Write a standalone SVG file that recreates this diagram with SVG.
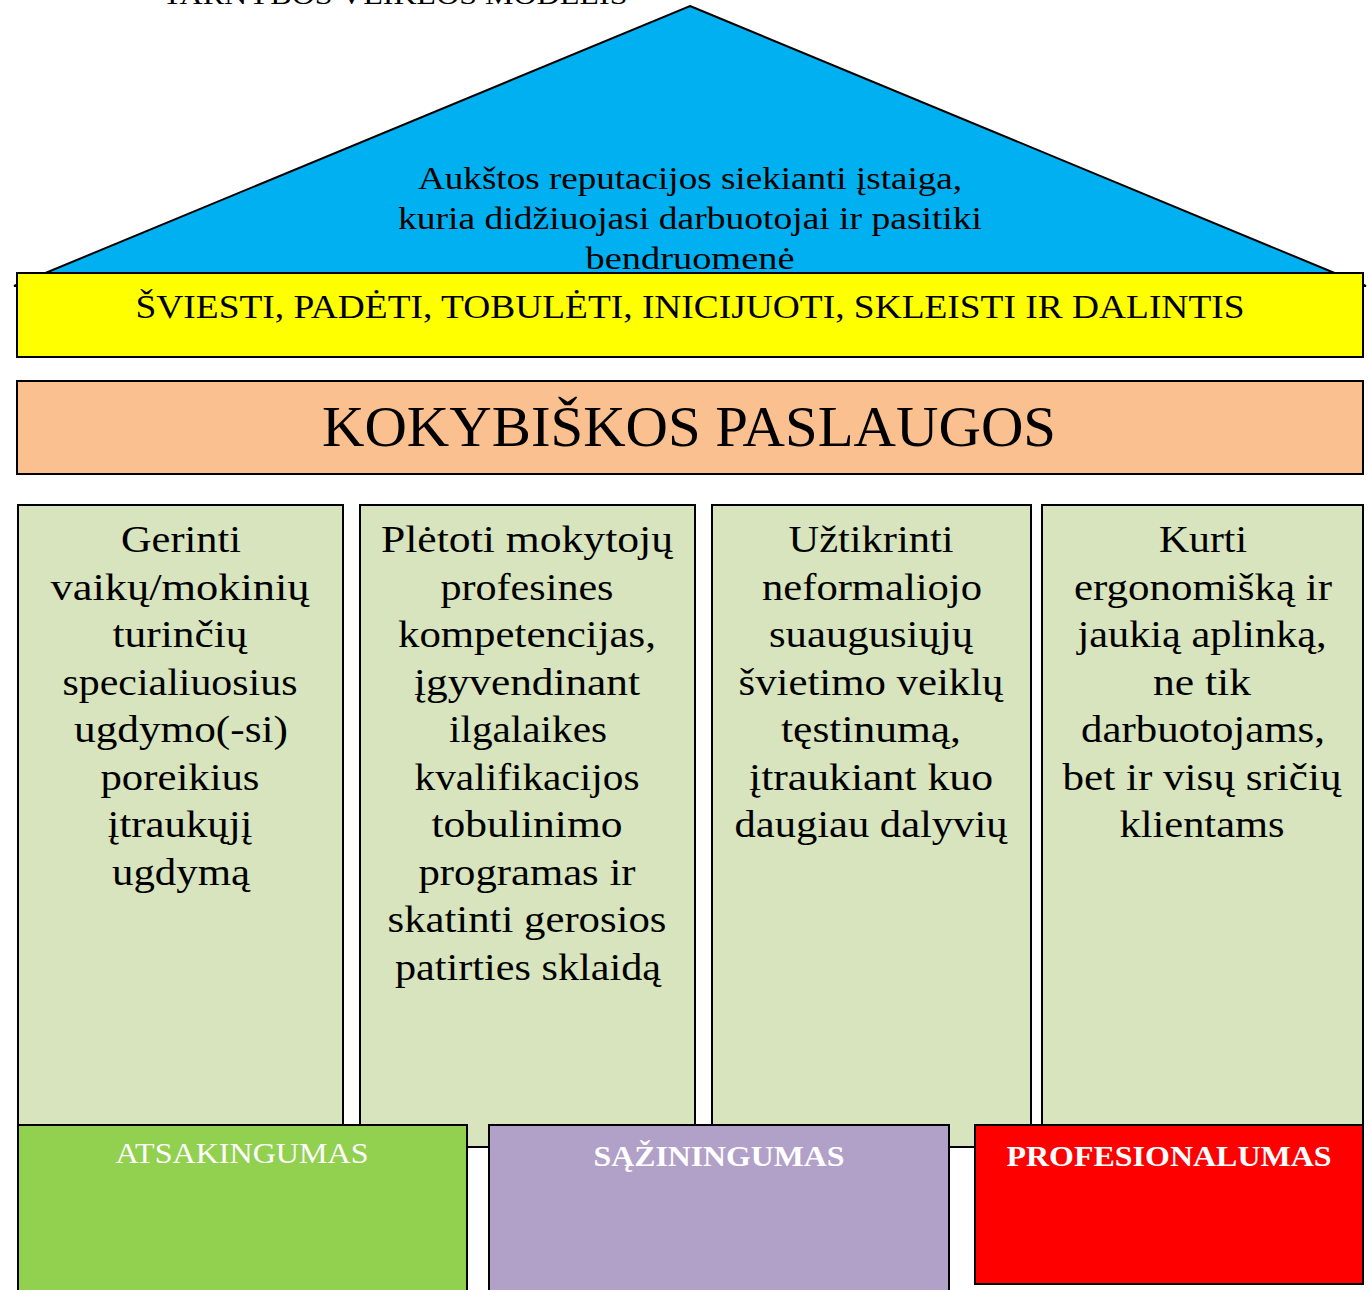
<svg xmlns="http://www.w3.org/2000/svg" width="1368" height="1290" viewBox="0 0 1368 1290">
<style>
.s{stroke:#000;stroke-width:2}
.col{fill:#D7E4BD;stroke:#000;stroke-width:2}
.ct{font-family:"Liberation Serif","DejaVu Serif",serif;font-size:37px;fill:#000;text-anchor:middle}
.tm{font-family:"Liberation Serif",serif;fill:#000;text-anchor:middle}
.bt{font-family:"Liberation Serif",serif;font-size:29px;fill:#fff;text-anchor:middle}
</style>
<rect width="1368" height="1290" fill="#fff"/>
<text class="tm" x="395" y="4" font-size="28" textLength="465" lengthAdjust="spacingAndGlyphs">TARNYBOS VEIKLOS MODELIS</text>
<g id="roof">
<polygon points="690,6 1366,286 14,286" fill="#00B0F0" class="s"/>
<text class="tm" font-size="32" lengthAdjust="spacingAndGlyphs"><tspan x="690" y="189" textLength="544" lengthAdjust="spacingAndGlyphs">Aukštos reputacijos siekianti įstaiga,</tspan><tspan x="690" y="229" textLength="584" lengthAdjust="spacingAndGlyphs">kuria didžiuojasi darbuotojai ir pasitiki</tspan><tspan x="690" y="269" textLength="209" lengthAdjust="spacingAndGlyphs">bendruomenė</tspan></text>
</g>
<g id="values">
<rect x="17" y="273" width="1346" height="84" fill="#FFFF00" class="s"/>
<text class="tm" x="690" y="318" font-size="34" textLength="1109" lengthAdjust="spacingAndGlyphs">ŠVIESTI, PADĖTI, TOBULĖTI, INICIJUOTI, SKLEISTI IR DALINTIS</text>
</g>
<g id="services">
<rect x="17" y="381" width="1346" height="93" fill="#FAC090" class="s"/>
<text class="tm" x="689" y="446" font-size="56" textLength="734" lengthAdjust="spacingAndGlyphs">KOKYBIŠKOS PASLAUGOS</text>
</g>
<g id="col1">
<rect x="18" y="505" width="325" height="642" class="col"/>
<text class="ct"><tspan x="181" y="552" textLength="120" lengthAdjust="spacingAndGlyphs">Gerinti</tspan><tspan x="180" y="600" textLength="259" lengthAdjust="spacingAndGlyphs">vaikų/mokinių</tspan><tspan x="180" y="647" textLength="135" lengthAdjust="spacingAndGlyphs">turinčių</tspan><tspan x="180" y="695" textLength="235" lengthAdjust="spacingAndGlyphs">specialiuosius</tspan><tspan x="181" y="742" textLength="214" lengthAdjust="spacingAndGlyphs">ugdymo(-si)</tspan><tspan x="180" y="790" textLength="159" lengthAdjust="spacingAndGlyphs">poreikius</tspan><tspan x="180" y="837" textLength="145" lengthAdjust="spacingAndGlyphs">įtraukųjį</tspan><tspan x="181" y="885" textLength="138" lengthAdjust="spacingAndGlyphs">ugdymą</tspan></text>
</g>
<g id="col2">
<rect x="360" y="505" width="335" height="642" class="col"/>
<text class="ct"><tspan x="527" y="552" textLength="292" lengthAdjust="spacingAndGlyphs">Plėtoti mokytojų</tspan><tspan x="527" y="600" textLength="173" lengthAdjust="spacingAndGlyphs">profesines</tspan><tspan x="527" y="647" textLength="258" lengthAdjust="spacingAndGlyphs">kompetencijas,</tspan><tspan x="527" y="695" textLength="226" lengthAdjust="spacingAndGlyphs">įgyvendinant</tspan><tspan x="528" y="742" textLength="158" lengthAdjust="spacingAndGlyphs">ilgalaikes</tspan><tspan x="527" y="790" textLength="225" lengthAdjust="spacingAndGlyphs">kvalifikacijos</tspan><tspan x="527" y="837" textLength="191" lengthAdjust="spacingAndGlyphs">tobulinimo</tspan><tspan x="527" y="885" textLength="217" lengthAdjust="spacingAndGlyphs">programas ir</tspan><tspan x="527" y="932" textLength="279" lengthAdjust="spacingAndGlyphs">skatinti gerosios</tspan><tspan x="528" y="980" textLength="266" lengthAdjust="spacingAndGlyphs">patirties sklaidą</tspan></text>
</g>
<g id="col3">
<rect x="712" y="505" width="319" height="642" class="col"/>
<text class="ct"><tspan x="871" y="552" textLength="165" lengthAdjust="spacingAndGlyphs">Užtikrinti</tspan><tspan x="872" y="600" textLength="220" lengthAdjust="spacingAndGlyphs">neformaliojo</tspan><tspan x="871" y="647" textLength="204" lengthAdjust="spacingAndGlyphs">suaugusiųjų</tspan><tspan x="871" y="695" textLength="265" lengthAdjust="spacingAndGlyphs">švietimo veiklų</tspan><tspan x="871" y="742" textLength="180" lengthAdjust="spacingAndGlyphs">tęstinumą,</tspan><tspan x="871" y="790" textLength="244" lengthAdjust="spacingAndGlyphs">įtraukiant kuo</tspan><tspan x="871" y="837" textLength="273" lengthAdjust="spacingAndGlyphs">daugiau dalyvių</tspan></text>
</g>
<g id="col4">
<rect x="1042" y="505" width="321" height="642" class="col"/>
<text class="ct"><tspan x="1203" y="552" textLength="88" lengthAdjust="spacingAndGlyphs">Kurti</tspan><tspan x="1203" y="600" textLength="258" lengthAdjust="spacingAndGlyphs">ergonomišką ir</tspan><tspan x="1202" y="647" textLength="249" lengthAdjust="spacingAndGlyphs">jaukią aplinką,</tspan><tspan x="1202" y="695" textLength="98" lengthAdjust="spacingAndGlyphs">ne tik</tspan><tspan x="1203" y="742" textLength="244" lengthAdjust="spacingAndGlyphs">darbuotojams,</tspan><tspan x="1202" y="790" textLength="279" lengthAdjust="spacingAndGlyphs">bet ir visų sričių</tspan><tspan x="1202" y="837" textLength="165" lengthAdjust="spacingAndGlyphs">klientams</tspan></text>
</g>
<g id="atsakingumas">
<rect x="18" y="1125" width="449" height="170" fill="#92D050" class="s"/>
<text class="bt" x="242" y="1163" textLength="253" lengthAdjust="spacingAndGlyphs">ATSAKINGUMAS</text>
</g>
<g id="saziningumas">
<rect x="489" y="1125" width="460" height="170" fill="#B1A0C7" class="s"/>
<text class="bt" x="719" y="1166" font-weight="bold" textLength="251" lengthAdjust="spacingAndGlyphs">SĄŽININGUMAS</text>
</g>
<g id="profesionalumas">
<rect x="975" y="1125" width="388" height="159" fill="#FF0000" class="s"/>
<text class="bt" x="1169" y="1166" font-weight="bold" textLength="325" lengthAdjust="spacingAndGlyphs">PROFESIONALUMAS</text>
</g>
<g id="connectors"/>
</svg>
